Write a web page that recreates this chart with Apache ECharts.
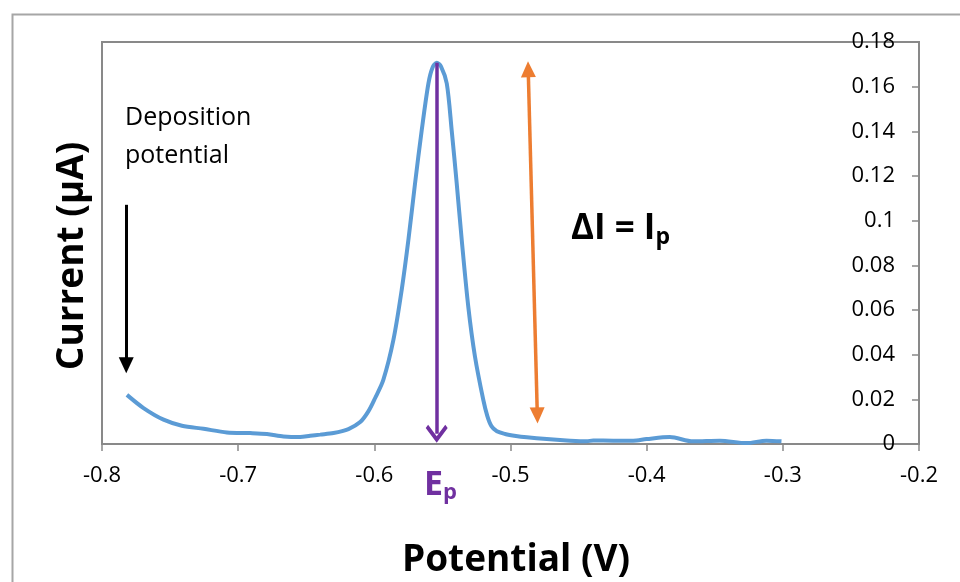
<!DOCTYPE html>
<html>
<head>
<meta charset="utf-8">
<script src="https://cdn.jsdelivr.net/npm/echarts@6/dist/echarts.min.js"></script>
<style>
html,body{margin:0;padding:0;background:#fff;}
#c{width:960px;height:582px;}
</style>
</head>
<body>
<div id="c"></div>
<script>
// Potential (V)
const potential = [-0.7817,-0.7695,-0.7548,-0.7413,-0.7254,-0.7083,-0.6912,-0.6789,-0.6667,-0.6545,-0.6471,-0.6398,-0.6300,-0.6190,-0.6104,-0.6044,-0.5994,-0.5934,-0.5860,-0.5799,-0.5750,-0.5701,-0.5652,-0.5603,-0.5573,-0.5542,-0.5510,-0.5468,-0.5432,-0.5395,-0.5358,-0.5310,-0.5261,-0.5200,-0.5170,-0.5140,-0.5100,-0.5040,-0.4960,-0.4880,-0.4734,-0.4588,-0.4441,-0.4392,-0.4246,-0.4099,-0.4001,-0.3830,-0.3659,-0.3463,-0.3267,-0.3120,-0.3010];
// Current (µA)
const current = [0.0220,0.0161,0.0109,0.0082,0.0068,0.0052,0.0049,0.0045,0.0034,0.0031,0.0037,0.0042,0.0049,0.0067,0.0098,0.0146,0.0206,0.0287,0.0466,0.0690,0.0913,0.1167,0.1405,0.1614,0.1685,0.1707,0.1690,0.1614,0.1405,0.1167,0.0913,0.0615,0.0392,0.0198,0.0125,0.0080,0.0057,0.0045,0.0036,0.0030,0.0022,0.0016,0.0012,0.0016,0.0015,0.0015,0.0022,0.0031,0.0012,0.0015,0.0004,0.0015,0.0012];

// Annotation arrows (data coordinates)
const depositionArrow = [[-0.7822, 0.1071], [-0.7822, 0.0353]];
const peakArrow = [[-0.5542, 0.1707], [-0.5542, 0.0046]];
const deltaArrow = [[-0.4870, 0.1678], [-0.4803, 0.0128]];

const xTicks = {min: -0.8, max: -0.2, interval: 0.1};
const yTicks = {min: 0, max: 0.18, interval: 0.02};

const seriesData = potential.map((x, i) => [x, current[i]]);
const FONT = 'Open Sans';
const tri = 'path://M5,0 L10,10 L0,10 Z';
const chevron = 'path://M10,0 L20,10 L17.8,12.2 L10,4.4 L2.2,12.2 L0,10 Z';

const chart = echarts.init(document.getElementById('c'), null, {renderer: 'canvas'});
chart.setOption({
  animation: false,
  backgroundColor: '#ffffff',
  grid: {left: 102, right: 41, top: 42, bottom: 138, show: true, borderColor: '#898989', borderWidth: 2, backgroundColor: 'transparent'},
  xAxis: {
    type: 'value', min: xTicks.min, max: xTicks.max, interval: xTicks.interval,
    axisLine: {show: true, lineStyle: {color: '#898989', width: 2}},
    axisTick: {show: true, inside: false, length: 7, lineStyle: {color: '#898989', width: 1.5}},
    axisLabel: {margin: 21, color: '#000', fontFamily: FONT, fontSize: 22, formatter: v => v.toFixed(1)},
    splitLine: {show: false}
  },
  yAxis: {
    type: 'value', position: 'right', min: yTicks.min, max: yTicks.max, interval: yTicks.interval,
    axisLine: {show: true, lineStyle: {color: '#898989', width: 2}},
    axisTick: {show: true, inside: true, length: 7, lineStyle: {color: '#898989', width: 1.5}},
    axisLabel: {inside: true, margin: 24, color: '#000', fontFamily: FONT, fontSize: 22,
      formatter: v => String(parseFloat(v.toFixed(2)))},
    splitLine: {show: false}
  },
  series: [
    {
      type: 'line', data: seriesData, smooth: 0.3, showSymbol: false, symbol: 'none',
      lineStyle: {color: '#5b9bd5', width: 4}, silent: true,
      markLine: {
        silent: true, animation: false, label: {show: false}, precision: 6,
        emphasis: {disabled: true},
        data: [
          [{coord: depositionArrow[0], symbol: 'none', lineStyle: {color: '#000', width: 3, type: 'solid'}},
           {coord: depositionArrow[1], symbol: tri, symbolSize: [15, 16]}],
          [{coord: peakArrow[0], symbol: 'none', lineStyle: {color: '#7030a0', width: 3.5, type: 'solid'}},
           {coord: peakArrow[1], symbol: chevron, symbolSize: [22, 18]}],
          [{coord: deltaArrow[0], symbol: tri, symbolSize: [15, 16], lineStyle: {color: '#ed7d31', width: 3.5, type: 'solid'}},
           {coord: deltaArrow[1], symbol: tri, symbolSize: [15, 16]}]
        ]
      }
    }
  ],
  graphic: [
    {type: 'rect', left: 10, top: 12, shape: {width: 1000, height: 700}, style: {fill: 'none', stroke: '#a6a6a6', lineWidth: 2}, silent: true, z: -10},
    {type: 'text', left: 125, top: 99, style: {text: 'Deposition\npotential', font: '25px "Open Sans"', fill: '#000', lineHeight: 38}},
    {type: 'text', x: 72, y: 256, rotation: Math.PI / 2, style: {text: 'Current (µA)', font: 'bold 37px "Open Sans"', fill: '#000', align: 'center', verticalAlign: 'middle'}},
    {type: 'text', x: 516, y: 560, style: {text: 'Potential (V)', font: 'bold 37px "Open Sans"', fill: '#000', align: 'center', verticalAlign: 'middle'}},
    {type: 'text', x: 571, y: 229, style: {
      text: '{a|ΔI = I}{b|p}', verticalAlign: 'middle',
      rich: {a: {font: 'bold 35px "Open Sans"', fill: '#000'}, b: {font: 'bold 23px "Open Sans"', fill: '#000', padding: [16, 0, 0, 0]}}
    }},
    {type: 'text', x: 424, y: 485, style: {
      text: '{a|E}{b|p}', verticalAlign: 'middle',
      rich: {a: {font: 'bold 34px "Open Sans"', fill: '#7030a0'}, b: {font: 'bold 22px "Open Sans"', fill: '#7030a0', padding: [16, 0, 0, 0]}}
    }}
  ]
});
</script>
</body>
</html>
